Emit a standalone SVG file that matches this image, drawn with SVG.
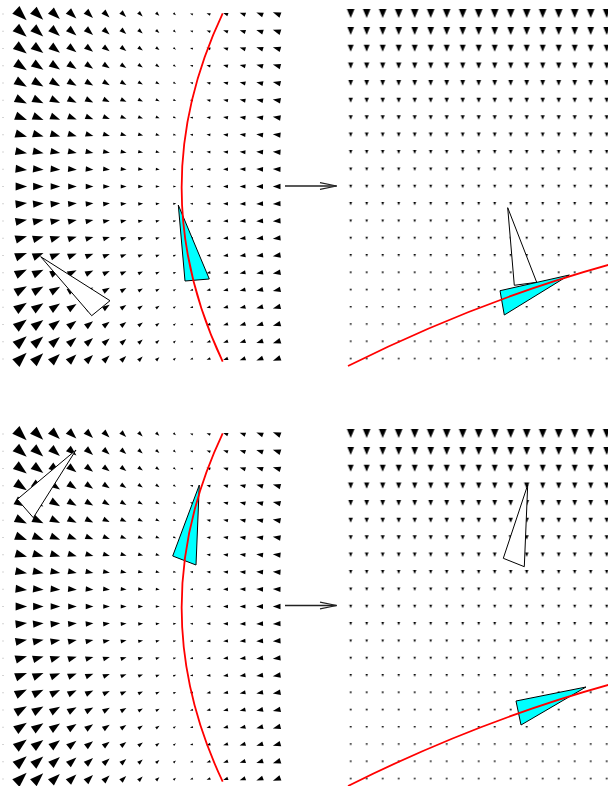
<svg xmlns="http://www.w3.org/2000/svg" width="608" height="786" viewBox="0 0 608 786">
<style>
.red{fill:none;stroke:#ff0000;stroke-width:1.8}
.tri{stroke:#000;stroke-width:1;stroke-linejoin:miter}
.w{fill:#fff}
.c{fill:#00ffff}
.con{stroke:#222;stroke-width:1.3;fill:none}
.tick{stroke:#aaa;stroke-width:1;stroke-dasharray:1 16.25}
</style>
<defs>
<path id="u" d="M.6,0L-.4,.35L-.4,-.35Z"/>
<use id="r0" href="#u" transform="rotate(43.8)"/>
<use id="r1" href="#u" transform="rotate(40.8)"/>
<use id="r2" href="#u" transform="rotate(37.5)"/>
<use id="r3" href="#u" transform="rotate(33.9)"/>
<use id="r4" href="#u" transform="rotate(29.9)"/>
<use id="r5" href="#u" transform="rotate(25.6)"/>
<use id="r6" href="#u" transform="rotate(21)"/>
<use id="r7" href="#u" transform="rotate(16)"/>
<use id="r8" href="#u" transform="rotate(10.9)"/>
<use id="r9" href="#u" transform="rotate(5.5)"/>
<use id="q0" href="#u" transform="rotate(19.8)"/>
<use id="q1" href="#u" transform="rotate(18.1)"/>
<use id="q2" href="#u" transform="rotate(16.2)"/>
<use id="q3" href="#u" transform="rotate(14.3)"/>
<use id="q4" href="#u" transform="rotate(12.3)"/>
<use id="q5" href="#u" transform="rotate(10.3)"/>
<use id="q6" href="#u" transform="rotate(8.3)"/>
<use id="q7" href="#u" transform="rotate(6.2)"/>
<use id="q8" href="#u" transform="rotate(4.2)"/>
<use id="q9" href="#u" transform="rotate(2.1)"/>
<path id="dn" d="M0,.5L-.42,-.5L.42,-.5Z"/>
<pattern id="pr" patternUnits="userSpaceOnUse" x="342.7" y="0" width="16" height="420">
<use href="#dn" transform="translate(8,13.5)scale(9)"/>
<use href="#dn" transform="translate(8,31)scale(7.9)"/>
<use href="#dn" transform="translate(8,48.3)scale(7)"/>
<use href="#dn" transform="translate(8,65.6)scale(6.2)"/>
<use href="#dn" transform="translate(8,82.9)scale(5.6)"/>
<use href="#dn" transform="translate(8,100.2)scale(5.1)"/>
<use href="#dn" transform="translate(8,117.5)scale(4.7)"/>
<use href="#dn" transform="translate(8,134.75)scale(4.3)"/>
<use href="#dn" transform="translate(8,152)scale(4)"/>
<use href="#dn" transform="translate(8,169.25)scale(3.7)"/>
<use href="#dn" transform="translate(8,186.5)scale(3.5)"/>
<use href="#dn" transform="translate(8,203.75)scale(3.3)"/>
<use href="#dn" transform="translate(8,221)scale(3.1)"/>
<use href="#dn" transform="translate(8,238.25)scale(2.95)"/>
<use href="#dn" transform="translate(8,255.5)scale(2.8)"/>
<use href="#dn" transform="translate(8,272.75)scale(2.7)"/>
<use href="#dn" transform="translate(8,290)scale(2.6)"/>
<use href="#dn" transform="translate(8,307.25)scale(2.5)"/>
<use href="#dn" transform="translate(8,324.5)scale(2.4)"/>
<use href="#dn" transform="translate(8,341.75)scale(2.35)"/>
<use href="#dn" transform="translate(8,359)scale(2.3)"/>
</pattern>
<marker id="ah" markerUnits="userSpaceOnUse" markerWidth="20" markerHeight="12" refX="16.7" refY="6" orient="auto" overflow="visible">
<path d="M0,2.7L16.7,6L0,9.3" fill="none" stroke="#222" stroke-width="1.2"/>
</marker>
<g id="upper">
<g transform="translate(0,14)"><use href="#r0" transform="translate(20.2)scale(14.9)"/><use href="#r0" transform="translate(37.3)scale(13.6)"/><use href="#r0" transform="translate(54.5)scale(12.3)"/><use href="#r0" transform="translate(71.6)scale(11)"/><use href="#r0" transform="translate(88.8)scale(9.7)"/><use href="#r0" transform="translate(105.9)scale(8.4)"/><use href="#r0" transform="translate(123.1)scale(7.1)"/><use href="#r0" transform="translate(140.2)scale(5.8)"/><use href="#r0" transform="translate(157.4)scale(4.5)"/><use href="#r0" transform="translate(174.5)scale(3.2)"/><use href="#q0" transform="translate(191.7)scale(-3)"/><use href="#q0" transform="translate(208.8)scale(-4)"/><use href="#q0" transform="translate(226)scale(-5)"/><use href="#q0" transform="translate(243.1)scale(-6)"/><use href="#q0" transform="translate(260.3)scale(-7)"/><use href="#q0" transform="translate(277.4)scale(-8)"/></g>
<g transform="translate(0,31.25)"><use href="#r1" transform="translate(20.2)scale(14.3)"/><use href="#r1" transform="translate(37.3)scale(13.1)"/><use href="#r1" transform="translate(54.5)scale(11.8)"/><use href="#r1" transform="translate(71.6)scale(10.6)"/><use href="#r1" transform="translate(88.8)scale(9.4)"/><use href="#r1" transform="translate(105.9)scale(8.1)"/><use href="#r1" transform="translate(123.1)scale(6.9)"/><use href="#r1" transform="translate(140.2)scale(5.6)"/><use href="#r1" transform="translate(157.4)scale(4.4)"/><use href="#r1" transform="translate(174.5)scale(3.1)"/><use href="#q1" transform="translate(191.7)scale(-3)"/><use href="#q1" transform="translate(208.8)scale(-4)"/><use href="#q1" transform="translate(226)scale(-5)"/><use href="#q1" transform="translate(243.1)scale(-6)"/><use href="#q1" transform="translate(260.3)scale(-7)"/><use href="#q1" transform="translate(277.4)scale(-8)"/></g>
<g transform="translate(0,48.5)"><use href="#r2" transform="translate(20.2)scale(13.8)"/><use href="#r2" transform="translate(37.3)scale(12.6)"/><use href="#r2" transform="translate(54.5)scale(11.4)"/><use href="#r2" transform="translate(71.6)scale(10.2)"/><use href="#r2" transform="translate(88.8)scale(9)"/><use href="#r2" transform="translate(105.9)scale(7.8)"/><use href="#r2" transform="translate(123.1)scale(6.7)"/><use href="#r2" transform="translate(140.2)scale(5.5)"/><use href="#r2" transform="translate(157.4)scale(4.3)"/><use href="#r2" transform="translate(174.5)scale(3.1)"/><use href="#q2" transform="translate(191.7)scale(-3)"/><use href="#q2" transform="translate(208.8)scale(-4)"/><use href="#q2" transform="translate(226)scale(-5)"/><use href="#q2" transform="translate(243.1)scale(-6)"/><use href="#q2" transform="translate(260.3)scale(-6.9)"/><use href="#q2" transform="translate(277.4)scale(-7.9)"/></g>
<g transform="translate(0,65.75)"><use href="#r3" transform="translate(20.2)scale(13.3)"/><use href="#r3" transform="translate(37.3)scale(12.2)"/><use href="#r3" transform="translate(54.5)scale(11)"/><use href="#r3" transform="translate(71.6)scale(9.9)"/><use href="#r3" transform="translate(88.8)scale(8.7)"/><use href="#r3" transform="translate(105.9)scale(7.6)"/><use href="#r3" transform="translate(123.1)scale(6.5)"/><use href="#r3" transform="translate(140.2)scale(5.3)"/><use href="#r3" transform="translate(157.4)scale(4.2)"/><use href="#r3" transform="translate(174.5)scale(3.1)"/><use href="#q3" transform="translate(191.7)scale(-3)"/><use href="#q3" transform="translate(208.8)scale(-3.95)"/><use href="#q3" transform="translate(226)scale(-4.9)"/><use href="#q3" transform="translate(243.1)scale(-5.9)"/><use href="#q3" transform="translate(260.3)scale(-6.8)"/><use href="#q3" transform="translate(277.4)scale(-7.8)"/></g>
<g transform="translate(0,83)"><use href="#r4" transform="translate(20.2)scale(12.8)"/><use href="#r4" transform="translate(37.3)scale(11.7)"/><use href="#r4" transform="translate(54.5)scale(10.7)"/><use href="#r4" transform="translate(71.6)scale(9.6)"/><use href="#r4" transform="translate(88.8)scale(8.5)"/><use href="#r4" transform="translate(105.9)scale(7.4)"/><use href="#r4" transform="translate(123.1)scale(6.3)"/><use href="#r4" transform="translate(140.2)scale(5.2)"/><use href="#r4" transform="translate(157.4)scale(4.1)"/><use href="#r4" transform="translate(174.5)scale(3)"/><use href="#q4" transform="translate(191.7)scale(-3)"/><use href="#q4" transform="translate(208.8)scale(-3.95)"/><use href="#q4" transform="translate(226)scale(-4.9)"/><use href="#q4" transform="translate(243.1)scale(-5.9)"/><use href="#q4" transform="translate(260.3)scale(-6.8)"/><use href="#q4" transform="translate(277.4)scale(-7.8)"/></g>
<g transform="translate(0,100.25)"><use href="#r5" transform="translate(20.2)scale(12.4)"/><use href="#r5" transform="translate(37.3)scale(11.4)"/><use href="#r5" transform="translate(54.5)scale(10.3)"/><use href="#r5" transform="translate(71.6)scale(9.3)"/><use href="#r5" transform="translate(88.8)scale(8.3)"/><use href="#r5" transform="translate(105.9)scale(7.2)"/><use href="#r5" transform="translate(123.1)scale(6.2)"/><use href="#r5" transform="translate(140.2)scale(5.1)"/><use href="#r5" transform="translate(157.4)scale(4.1)"/><use href="#r5" transform="translate(174.5)scale(3)"/><use href="#q5" transform="translate(191.7)scale(-3)"/><use href="#q5" transform="translate(208.8)scale(-3.95)"/><use href="#q5" transform="translate(226)scale(-4.9)"/><use href="#q5" transform="translate(243.1)scale(-5.9)"/><use href="#q5" transform="translate(260.3)scale(-6.8)"/><use href="#q5" transform="translate(277.4)scale(-7.8)"/></g>
<g transform="translate(0,117.5)"><use href="#r6" transform="translate(20.2)scale(12.1)"/><use href="#r6" transform="translate(37.3)scale(11.1)"/><use href="#r6" transform="translate(54.5)scale(10.1)"/><use href="#r6" transform="translate(71.6)scale(9.1)"/><use href="#r6" transform="translate(88.8)scale(8.1)"/><use href="#r6" transform="translate(105.9)scale(7)"/><use href="#r6" transform="translate(123.1)scale(6)"/><use href="#r6" transform="translate(140.2)scale(5)"/><use href="#r6" transform="translate(157.4)scale(4)"/><use href="#r6" transform="translate(174.5)scale(3)"/><use href="#q6" transform="translate(191.7)scale(-3)"/><use href="#q6" transform="translate(208.8)scale(-3.95)"/><use href="#q6" transform="translate(226)scale(-4.9)"/><use href="#q6" transform="translate(243.1)scale(-5.9)"/><use href="#q6" transform="translate(260.3)scale(-6.8)"/><use href="#q6" transform="translate(277.4)scale(-7.8)"/></g>
<g transform="translate(0,134.75)"><use href="#r7" transform="translate(20.2)scale(11.8)"/><use href="#r7" transform="translate(37.3)scale(10.9)"/><use href="#r7" transform="translate(54.5)scale(9.9)"/><use href="#r7" transform="translate(71.6)scale(8.9)"/><use href="#r7" transform="translate(88.8)scale(7.9)"/><use href="#r7" transform="translate(105.9)scale(6.9)"/><use href="#r7" transform="translate(123.1)scale(5.9)"/><use href="#r7" transform="translate(140.2)scale(5)"/><use href="#r7" transform="translate(157.4)scale(4)"/><use href="#r7" transform="translate(174.5)scale(3)"/><use href="#q7" transform="translate(191.7)scale(-3)"/><use href="#q7" transform="translate(208.8)scale(-3.9)"/><use href="#q7" transform="translate(226)scale(-4.9)"/><use href="#q7" transform="translate(243.1)scale(-5.8)"/><use href="#q7" transform="translate(260.3)scale(-6.8)"/><use href="#q7" transform="translate(277.4)scale(-7.7)"/></g>
<g transform="translate(0,152)"><use href="#r8" transform="translate(20.2)scale(11.6)"/><use href="#r8" transform="translate(37.3)scale(10.7)"/><use href="#r8" transform="translate(54.5)scale(9.7)"/><use href="#r8" transform="translate(71.6)scale(8.7)"/><use href="#r8" transform="translate(88.8)scale(7.8)"/><use href="#r8" transform="translate(105.9)scale(6.8)"/><use href="#r8" transform="translate(123.1)scale(5.9)"/><use href="#r8" transform="translate(140.2)scale(4.9)"/><use href="#r8" transform="translate(157.4)scale(3.9)"/><use href="#r8" transform="translate(174.5)scale(3)"/><use href="#q8" transform="translate(191.7)scale(-3)"/><use href="#q8" transform="translate(208.8)scale(-3.9)"/><use href="#q8" transform="translate(226)scale(-4.9)"/><use href="#q8" transform="translate(243.1)scale(-5.8)"/><use href="#q8" transform="translate(260.3)scale(-6.8)"/><use href="#q8" transform="translate(277.4)scale(-7.7)"/></g>
<g transform="translate(0,169.25)"><use href="#r9" transform="translate(20.2)scale(11.5)"/><use href="#r9" transform="translate(37.3)scale(10.6)"/><use href="#r9" transform="translate(54.5)scale(9.6)"/><use href="#r9" transform="translate(71.6)scale(8.7)"/><use href="#r9" transform="translate(88.8)scale(7.7)"/><use href="#r9" transform="translate(105.9)scale(6.8)"/><use href="#r9" transform="translate(123.1)scale(5.8)"/><use href="#r9" transform="translate(140.2)scale(4.9)"/><use href="#r9" transform="translate(157.4)scale(3.9)"/><use href="#r9" transform="translate(174.5)scale(3)"/><use href="#q9" transform="translate(191.7)scale(-3)"/><use href="#q9" transform="translate(208.8)scale(-3.9)"/><use href="#q9" transform="translate(226)scale(-4.9)"/><use href="#q9" transform="translate(243.1)scale(-5.8)"/><use href="#q9" transform="translate(260.3)scale(-6.8)"/><use href="#q9" transform="translate(277.4)scale(-7.7)"/></g>
</g>
<g id="fieldL">
<use href="#upper"/>
<g transform="translate(0,186.5)"><use href="#u" transform="translate(20.2)scale(11.5)"/><use href="#u" transform="translate(37.3)scale(10.5)"/><use href="#u" transform="translate(54.5)scale(9.6)"/><use href="#u" transform="translate(71.6)scale(8.6)"/><use href="#u" transform="translate(88.8)scale(7.7)"/><use href="#u" transform="translate(105.9)scale(6.7)"/><use href="#u" transform="translate(123.1)scale(5.8)"/><use href="#u" transform="translate(140.2)scale(4.9)"/><use href="#u" transform="translate(157.4)scale(3.9)"/><use href="#u" transform="translate(174.5)scale(3)"/><use href="#u" transform="translate(191.7)scale(-3)"/><use href="#u" transform="translate(208.8)scale(-3.9)"/><use href="#u" transform="translate(226)scale(-4.9)"/><use href="#u" transform="translate(243.1)scale(-5.8)"/><use href="#u" transform="translate(260.3)scale(-6.8)"/><use href="#u" transform="translate(277.4)scale(-7.7)"/></g>
<use href="#upper" transform="translate(0,373)scale(1,-1)"/>
<line class="tick" x1="3" y1="13.5" x2="3" y2="361"/>
</g>
<path id="curveL" class="red" d="M222.7,13.3Q140.6,187.5 222.7,361.7"/>
<path id="curveR" class="red" d="M348,366Q478,301 610,264.5"/>
</defs>
<rect width="608" height="786" fill="#fff"/>

<g id="panel-top-left">
<use href="#fieldL"/>
<polygon class="tri w" points="40.7,256.7 110,300.7 91.7,315.7"/>
<polygon class="tri c" points="178.3,205 185,281 209.3,279"/>
<use href="#curveL"/>
</g>
<g id="panel-top-right">
<rect x="342.7" y="0" width="266" height="372" fill="url(#pr)"/>
<polygon class="tri w" points="507.7,207.7 514.3,285.3 536.7,282.3"/>
<polygon class="tri c" points="500,290.7 504.3,315 569.3,275"/>
<use href="#curveR"/>
</g>
<g id="panel-bottom-left">
<use href="#fieldL" transform="translate(0,420)"/>
<polygon class="tri w" points="76,450 17.3,499.3 33.3,517.7"/>
<polygon class="tri c" points="199.3,485 172.7,556 196,565"/>
<use href="#curveL" transform="translate(0,420)"/>
</g>
<g id="panel-bottom-right">
<rect x="342.7" y="420" width="266" height="366" fill="url(#pr)"/>
<polygon class="tri w" points="527.7,485 503.3,558.3 524.3,566.7"/>
<polygon class="tri c" points="516,701 521,725 586,687"/>
<use href="#curveR" transform="translate(0,420)"/>
</g>
<g id="connectors">
<line class="con" x1="285" y1="186" x2="336.7" y2="186" marker-end="url(#ah)"/>
<line class="con" x1="285" y1="605.5" x2="336.7" y2="605.5" marker-end="url(#ah)"/>
</g>
</svg>
